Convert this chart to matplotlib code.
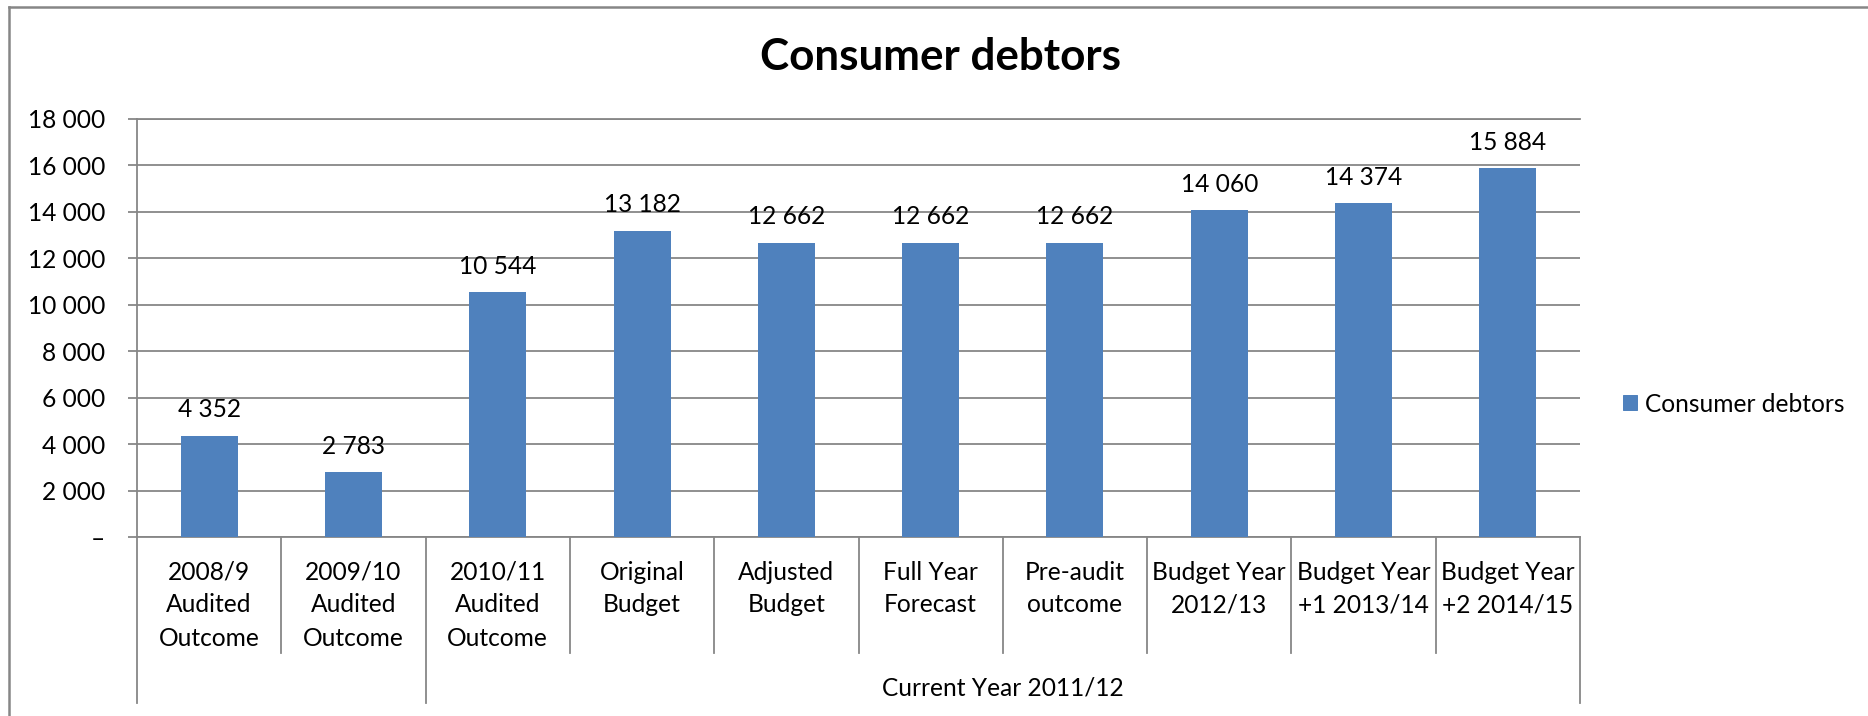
import numpy as np
import matplotlib.pyplot as plt
from matplotlib.patches import Patch
from matplotlib.lines import Line2D


categories = ["2008/9\nAudited\nOutcome", "2009/10\nAudited\nOutcome", "2010/11\nAudited\nOutcome",
              "Original\nBudget", "Adjusted\nBudget", "Full Year\nForecast", "Pre-audit\noutcome",
              "Budget Year\n2012/13", "Budget Year\n+1 2013/14", "Budget Year\n+2 2014/15"]
debtors = [4352, 2783, 10544, 13182, 12662, 12662, 12662, 14060, 14374, 15884]
group_label = "Current Year 2011/12"
group_start, group_end = 2, 10
y_ticks = list(range(0, 18001, 2000))

plt.rcParams['font.family'] = ['Lato', 'DejaVu Sans']

GREY = '#868686'
BLUE = '#4F81BD'
W, H = 1868, 716
FS = 24.5


def fmt(v):
    if v == 0:
        return '–'
    return f'{int(v):,}'.replace(',', ' ')


# dpi 72 so one point is one pixel
fig = plt.figure(figsize=(W / 72, H / 72), dpi=72)
ax = fig.add_axes([137 / W, 1 - 537 / H, (1580 - 137) / W, (537 - 119) / H])

x = np.arange(len(debtors))
ax.bar(x, debtors, width=0.395, color=BLUE, zorder=3)
ax.set_xlim(-0.5, len(debtors) - 0.5)
ax.set_ylim(0, 18000)
ax.set_yticks(y_ticks)
ax.yaxis.set_major_formatter(lambda v, p: fmt(v))
ax.grid(axis='y', color=GREY, lw=1.8, zorder=0)
ax.set_xticks([])
ax.spines['right'].set_visible(False)
for s in ['top', 'left', 'bottom']:
    ax.spines[s].set_color(GREY)
    ax.spines[s].set_linewidth(1.8)
ax.tick_params(axis='y', length=9, width=1.8, color=GREY, labelsize=FS, pad=23)

# value labels
for i, v in enumerate(debtors):
    ax.annotate(fmt(v), (i, v), xytext=(0, 26), textcoords='offset points',
                ha='center', va='center', fontsize=FS)

# category labels, one line at a time
for i, lab in enumerate(categories):
    for j, line in enumerate(lab.split('\n')):
        ax.annotate(line, (i, 0), xytext=(0, -35 - 33 * j), textcoords='offset points',
                    ha='center', va='center', fontsize=FS, annotation_clip=False)

# separators under the axis
trans = ax.get_xaxis_transform()
for b in np.arange(-0.5, len(debtors), 1.0):
    long = b in (-0.5, group_start - 0.5, group_end - 0.5)
    y_end = (537 - 703) / 418 if long else (537 - 653) / 418
    ax.plot([b, b], [0, y_end], transform=trans, color=GREY, lw=1.8, clip_on=False)

ax.annotate(group_label, ((group_start + group_end - 1) / 2, 0), xytext=(0, -151),
            textcoords='offset points', ha='center', va='center', fontsize=FS,
            annotation_clip=False)

fig.text(940 / W, 1 - 57 / H, 'Consumer debtors', ha='center', va='center',
         fontsize=44, fontweight='bold')

ax.legend(handles=[Patch(color=BLUE, label='Consumer debtors')], loc='center left',
          bbox_to_anchor=(1623 / W, 1 - 404 / H), bbox_transform=fig.transFigure,
          frameon=False, fontsize=FS, handlelength=0.57, handleheight=0.57,
          handletextpad=0.33, borderpad=0, borderaxespad=0)

# chart border
fig.add_artist(Line2D([9 / W, 9 / W], [0, 1 - 7 / H], color=GREY, lw=2.5))
fig.add_artist(Line2D([9 / W, 1], [1 - 7 / H, 1 - 7 / H], color=GREY, lw=2.5))

fig.savefig('out.png', dpi=72)
